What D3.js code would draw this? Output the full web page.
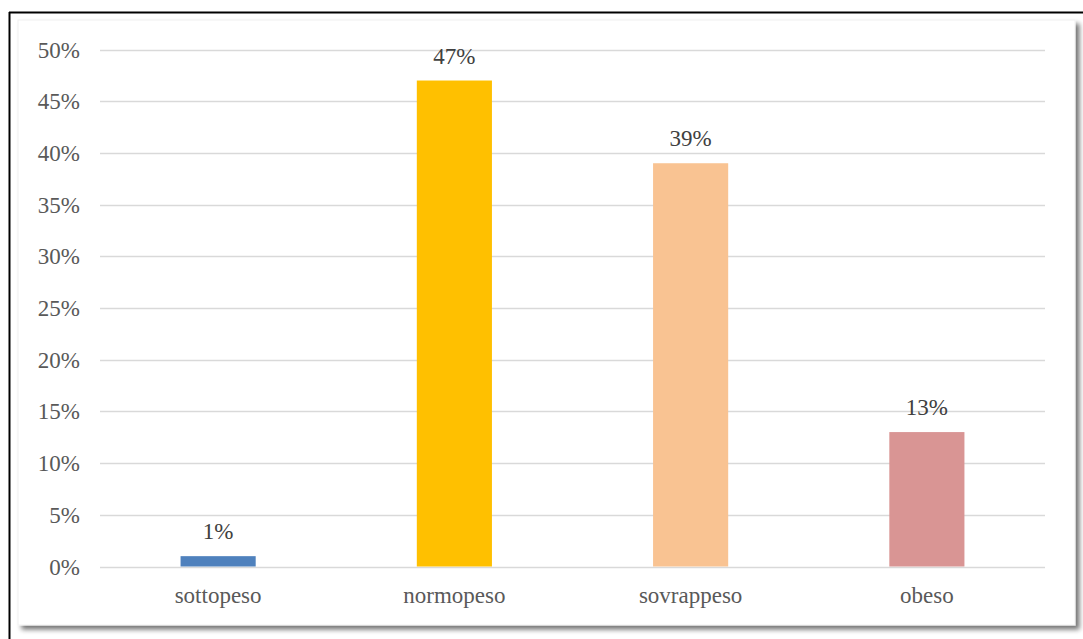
<!DOCTYPE html>
<html><head><meta charset="utf-8">
<script src="https://cdn.jsdelivr.net/npm/d3@7"></script>
<style>
html,body{margin:0;padding:0;background:#fff;}
svg{display:block;}
text{font-family:"Liberation Serif","Times New Roman",Tinos,"DejaVu Serif",serif;font-size:23px;}
</style></head>
<body>
<script>
const categories = ["sottopeso", "normopeso", "sovrappeso", "obeso"];
const values = [1, 47, 39, 13];
const colors = ["#4f81bd", "#ffc000", "#f9c392", "#d99594"];
const yTicks = [0, 5, 10, 15, 20, 25, 30, 35, 40, 45, 50];

const W = 1083, H = 639;
const svg = d3.select("body").append("svg").attr("width", W).attr("height", H);
const defs = svg.append("defs");
const f = defs.append("filter").attr("id","sh").attr("x","-5%").attr("y","-5%").attr("width","115%").attr("height","115%");
f.append("feGaussianBlur").attr("in","SourceAlpha").attr("stdDeviation",2.5);
f.append("feOffset").attr("dx",4).attr("dy",4).attr("result","b");
f.append("feComponentTransfer").append("feFuncA").attr("type","linear").attr("slope",0.55);
const m = f.append("feMerge"); m.append("feMergeNode"); m.append("feMergeNode").attr("in","SourceGraphic");

// outer black frame (left & top visible)
svg.append("line").attr("x1",9.5).attr("x2",9.5).attr("y1",12).attr("y2",H).attr("stroke","#000").attr("stroke-width",2);
svg.append("line").attr("x1",9).attr("x2",W).attr("y1",12.5).attr("y2",12.5).attr("stroke","#000").attr("stroke-width",2);

// panel
svg.append("rect").attr("x",18).attr("y",20).attr("width",1057).attr("height",605)
  .attr("fill","#fff").attr("stroke","#f0f0f0").attr("stroke-width",1).attr("filter","url(#sh)");

const x0 = 100, x1 = 1045, yTop = 49.5, yBase = 566.5;
const x = d3.scaleBand().domain(categories).range([x0, x1]).paddingInner(0.682).paddingOuter(0.341);
const y = d3.scaleLinear().domain([0, 50]).range([yBase, yTop]);

const g = svg.append("g");

// gridlines
g.selectAll("line.grid").data(yTicks).join("line").attr("class","grid")
  .attr("x1",x0).attr("x2",x1).attr("y1",d=>Math.round(y(d))+0.5).attr("y2",d=>Math.round(y(d))+0.5)
  .attr("stroke","#d9d9d9").attr("stroke-width",1.5);

// y labels
g.selectAll("text.yl").data(yTicks).join("text").attr("class","yl")
  .attr("x",80).attr("y",d=>y(d)).attr("dy","0.35em").attr("text-anchor","end")
  .attr("fill","#595959").text(d=>d+"%");

// bars
g.selectAll("rect.bar").data(values).join("rect").attr("class","bar")
  .attr("x",(d,i)=>x(categories[i])).attr("width",x.bandwidth())
  .attr("y",d=>y(d)).attr("height",d=>yBase-y(d)).attr("fill",(d,i)=>colors[i]);

// value labels
g.selectAll("text.vl").data(values).join("text").attr("class","vl")
  .attr("x",(d,i)=>x(categories[i])+x.bandwidth()/2).attr("y",d=>y(d)-17)
  .attr("text-anchor","middle").attr("fill","#404040")
  .text(d=>d+"%");

// x labels
g.selectAll("text.xl").data(categories).join("text").attr("class","xl")
  .attr("x",d=>x(d)+x.bandwidth()/2).attr("y",yBase+36)
  .attr("text-anchor","middle").attr("fill","#595959")
  .text(d=>d);
</script>
</body></html>
